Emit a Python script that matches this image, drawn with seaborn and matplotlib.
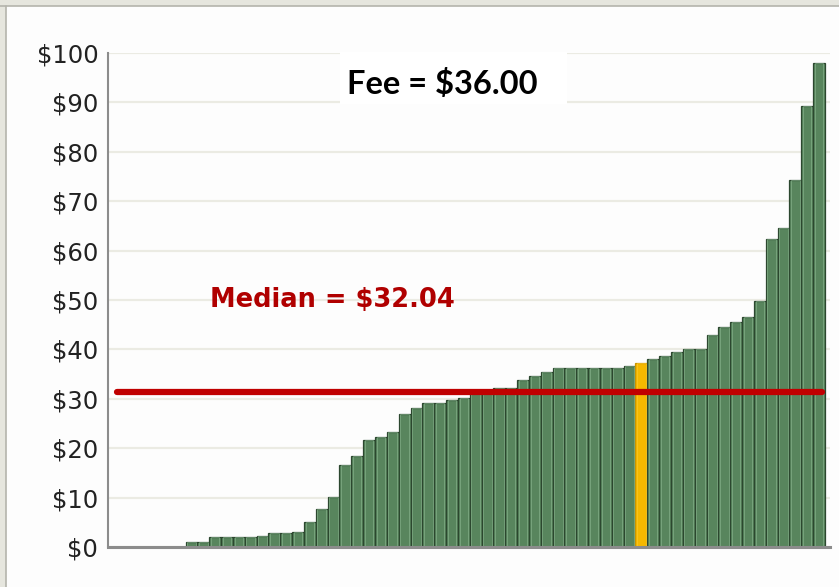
import numpy as np
import pandas as pd
import matplotlib.pyplot as plt
from matplotlib.patches import Rectangle
import seaborn as sns

# sorted prices, six empty slots first
empty_slots = [0, 0, 0, 0, 0, 0]
prices = [1.1, 1.1, 2.0, 2.0, 2.0, 2.0, 2.3, 2.8, 2.8, 3.1,
          5.0, 7.6, 10.2, 16.7, 18.4, 21.7, 22.3, 23.3, 26.9, 28.1,
          29.2, 29.2, 29.8, 30.1, 31.3, 31.5, 32.1, 32.1, 33.8, 34.6,
          35.5, 36.2, 36.2, 36.2, 36.2, 36.2, 36.2, 36.6, 37.3, 38.0,
          38.7, 39.5, 40.0, 40.0, 42.9, 44.6, 45.6, 46.6, 49.7, 62.3,
          64.5, 74.2, 89.3, 98.0]
fee_bar = 38          # index in prices of the highlighted bar
median_line = 31.4
median_label = 'Median = $32.04'
fee_label = 'Fee = $36.00'
yticks = [0, 10, 20, 30, 40, 50, 60, 70, 80, 90, 100]
ytick_labels = ['$' + str(v) for v in yticks]

green = '#58855d'
green_edge = '#2c472f'
yellow = '#f5b800'
yellow_edge = '#c99400'
red = '#c00000'
bg = '#fdfdfd'

values = empty_slots + prices
df = pd.DataFrame({'slot': range(len(values)), 'price': values})
hl = len(empty_slots) + fee_bar
colors = [yellow if i == hl else green for i in range(len(values))]

sns.set_style('white')
plt.rcParams['font.family'] = ['DejaVu Sans']

fig = plt.figure(figsize=(8.39, 5.87), dpi=100, facecolor=bg)
ax = fig.add_axes([108 / 839, 1 - 547 / 587, 722 / 839, 494 / 587])
ax.set_facecolor(bg)

sns.barplot(data=df, x='slot', y='price', hue='slot', palette=colors,
            legend=False, width=1.0, ax=ax, saturation=1)
for i, p in enumerate(ax.patches):
    p.set_edgecolor(yellow_edge if i == hl else green_edge)
    p.set_linewidth(0.9)
    p.set_zorder(2)

# light inner bevel on each bar
sns.barplot(data=df, x='slot', y='price', width=0.72, fill=False,
            color='#7ea884', linewidth=0.7, ax=ax, saturation=1)
for i, p in enumerate(ax.patches[len(values):]):
    p.set_zorder(2.5)
    if p.get_height() <= 0:
        p.set_visible(False)
    elif i == hl:
        p.set_edgecolor((1.0, 0.8, 0.2, 0.6))
    else:
        p.set_edgecolor((0.55, 0.72, 0.57, 0.6))

ax.set_xlim(-1.05, len(values) - 0.07)
ax.set_ylim(0, 100)
ax.set_yticks(yticks)
ax.set_yticklabels(ytick_labels, fontsize=17.5, color='#222222')
ax.set_xticks([])
ax.set_xlabel('')
ax.set_ylabel('')
ax.tick_params(axis='y', length=0, pad=7)
ax.yaxis.grid(True, color='#ebebe3', linewidth=1.6, zorder=0)
ax.set_axisbelow(True)

for s in ['top', 'right']:
    ax.spines[s].set_visible(False)
ax.spines['left'].set_color('#8c8c8c')
ax.spines['left'].set_linewidth(1.5)
ax.spines['bottom'].set_color('#8c8c8c')
ax.spines['bottom'].set_linewidth(2.2)
ax.spines['bottom'].set_zorder(3)

ax.axhline(median_line, xmin=0.012, xmax=0.989, color=red, linewidth=4.5,
           solid_capstyle='round', zorder=4)

ax.text(0.141, 0.5, median_label, transform=ax.transAxes, color='#b00000',
        fontsize=18.5, fontweight='bold', ha='left', va='center', zorder=5)

# white label box for the fee
ax.add_patch(Rectangle((0.321, 0.897), 0.315, 0.105, transform=ax.transAxes,
                       facecolor='white', edgecolor='none', zorder=4.5,
                       clip_on=False))
ax.text(0.331, 0.937, fee_label, transform=ax.transAxes, color='black',
        fontsize=23.5, fontweight='bold', family=['Lato', 'DejaVu Sans'],
        ha='left', va='center', zorder=5)

# window frame at top and left
fig.add_artist(Rectangle((0, 1 - 6 / 587), 1, 6 / 587, transform=fig.transFigure,
                         facecolor='#e6e6de', edgecolor='none'))
fig.add_artist(Rectangle((0, 0), 6 / 839, 1, transform=fig.transFigure,
                         facecolor='#e6e6de', edgecolor='none'))
fig.add_artist(plt.Line2D([0, 1], [1 - 6 / 587] * 2, transform=fig.transFigure,
                          color='#b4b4ac', linewidth=1.2))
fig.add_artist(plt.Line2D([6 / 839] * 2, [0, 1 - 6 / 587], transform=fig.transFigure,
                          color='#b4b4ac', linewidth=1.2))

fig.savefig('out.png', dpi=100, facecolor=bg)
